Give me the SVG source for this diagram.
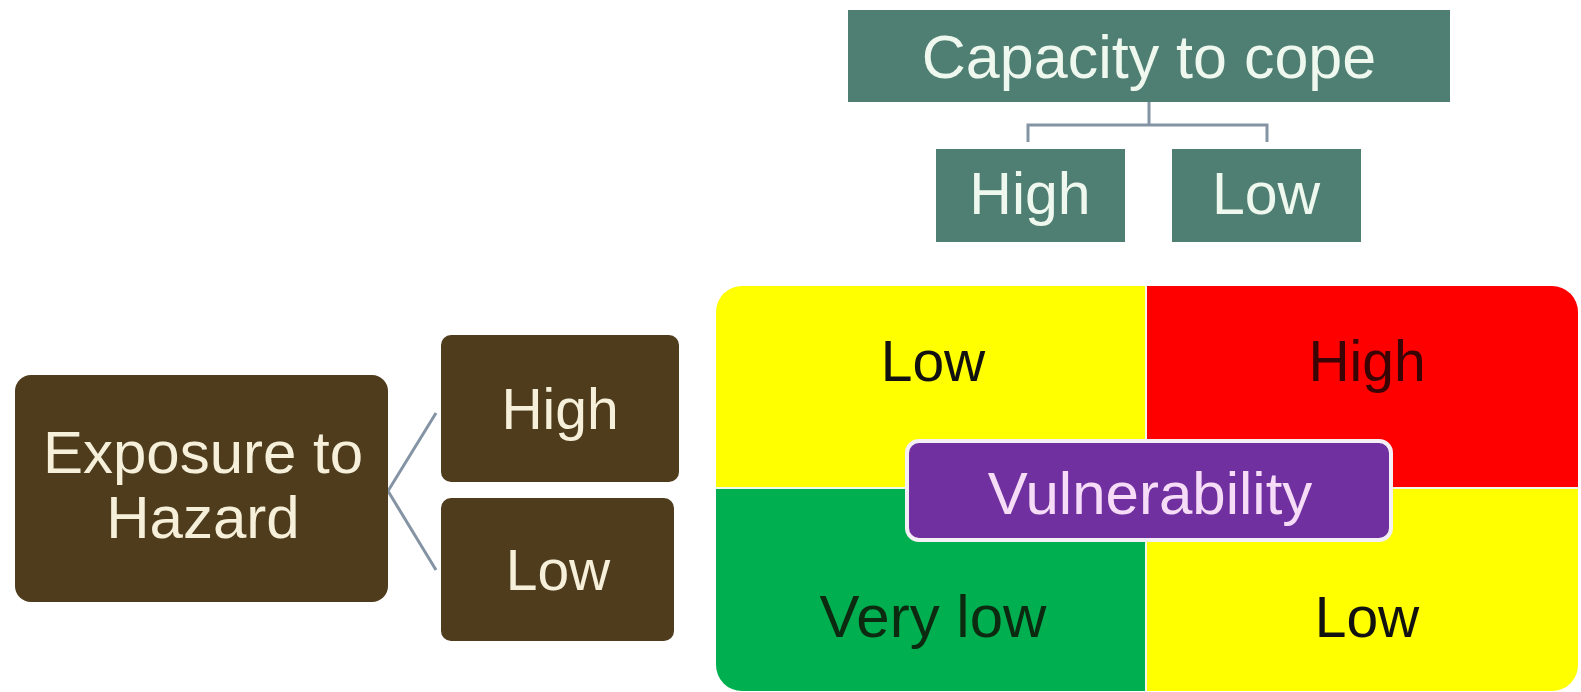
<svg xmlns="http://www.w3.org/2000/svg" width="1581" height="692" viewBox="0 0 1581 692">
<style>
.teal{fill:#4f7e73}
.brown{fill:#4e3c1d}
.lt{font-family:"Liberation Sans",Arial,sans-serif;text-anchor:middle;fill:#eef8ee}
.bt{font-family:"Liberation Sans",Arial,sans-serif;text-anchor:middle;fill:#f6f0da}
.mt{font-family:"Liberation Sans",Arial,sans-serif;text-anchor:middle;fill:#111}
.conn{fill:none;stroke:#8494a4;stroke-width:3}
</style>
<defs>
<clipPath id="mclip"><rect x="716" y="286" width="862" height="405" rx="26"/></clipPath>
</defs>
<rect width="1581" height="692" fill="#fff"/>
<g id="connectors">
<path class="conn" d="M1149 102 V125 M1028 142 V125 H1267 V142"/>
<path class="conn" d="M388 491 L436 413 M388 491 L436 570"/>
</g>
<g id="capacity">
<rect class="teal" x="848" y="10" width="602" height="92"/>
<text class="lt" x="1149" y="78" font-size="61">Capacity to cope</text>
</g>
<g id="cap-high">
<rect class="teal" x="936" y="149" width="189" height="93"/>
<text class="lt" x="1030" y="214" font-size="59">High</text>
</g>
<g id="cap-low">
<rect class="teal" x="1172" y="149" width="189" height="93"/>
<text class="lt" x="1266" y="214" font-size="59">Low</text>
</g>
<g id="exposure">
<rect class="brown" x="15" y="375" width="373" height="227" rx="16"/>
<text class="bt" x="203" y="473" font-size="60">Exposure to</text>
<text class="bt" x="203" y="538" font-size="60">Hazard</text>
</g>
<g id="exp-high">
<rect class="brown" x="441" y="335" width="238" height="147" rx="10"/>
<text class="bt" x="560" y="429" font-size="57">High</text>
</g>
<g id="exp-low">
<rect class="brown" x="441" y="498" width="233" height="143" rx="10"/>
<text class="bt" x="558" y="590" font-size="57">Low</text>
</g>
<g id="matrix">
<g clip-path="url(#mclip)">
<rect x="716" y="286" width="431" height="203" fill="#ffff00"/>
<rect x="1147" y="286" width="431" height="203" fill="#ff0000"/>
<rect x="716" y="489" width="431" height="203" fill="#00b050"/>
<rect x="1147" y="489" width="431" height="203" fill="#ffff00"/>
<path d="M1146 286 V692 M716 488 H1578" stroke="#f4f8e8" stroke-width="2"/>
</g>
<text class="mt" x="933" y="381" font-size="57">Low</text>
<text class="mt" x="1367" y="381" font-size="57" style="fill:#3a0404">High</text>
<text class="mt" x="933" y="637" font-size="60" style="fill:#0c2a10">Very low</text>
<text class="mt" x="1367" y="637" font-size="57">Low</text>
</g>
<g id="vulnerability">
<rect x="907" y="441" width="484" height="99" rx="12" fill="#7030a0" stroke="#f4f0f6" stroke-width="4"/>
<text x="1150" y="514" font-size="60" font-family="Liberation Sans, Arial, sans-serif" text-anchor="middle" fill="#f6dcf6">Vulnerability</text>
</g>
</svg>
